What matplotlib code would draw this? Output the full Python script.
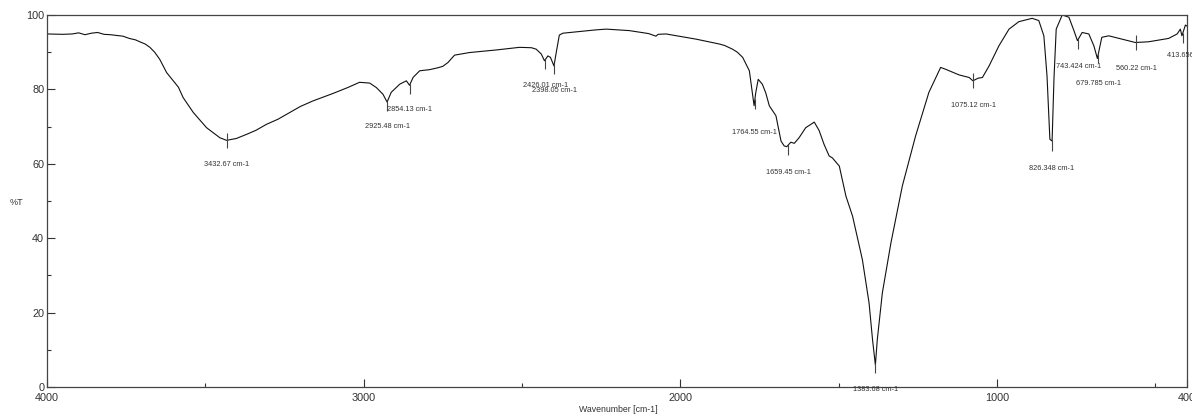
import numpy as np
import matplotlib
matplotlib.use("Agg")
from matplotlib import pyplot as plt
from matplotlib.ticker import MultipleLocator, FixedLocator

plt.rcParams['font.family'] = ['Liberation Sans', 'DejaVu Sans']

# FTIR spectrum, wavenumber (cm-1) against transmittance (%T)
wavenumber = [4000, 3950, 3920, 3900, 3880, 3860, 3840, 3820, 3800, 3780,
              3760, 3740, 3720, 3707, 3690, 3675, 3660, 3644, 3622, 3601,
              3585, 3570, 3538, 3496, 3454, 3433, 3402, 3370, 3340, 3307,
              3270, 3233, 3200, 3160, 3097, 3050, 3013, 2981, 2960, 2939,
              2926, 2913, 2886, 2865, 2855, 2844, 2823, 2792, 2766, 2750,
              2734, 2713, 2666, 2581, 2508, 2470, 2455, 2439, 2429, 2418,
              2410, 2399, 2390, 2382, 2371, 2266, 2234, 2161, 2100, 2077,
              2070, 2045, 1950, 1877, 1860, 1835, 1820, 1803, 1782, 1774,
              1767, 1762, 1754, 1741, 1730, 1719, 1698, 1682, 1672, 1664,
              1651, 1640, 1625, 1604, 1577, 1562, 1546, 1530, 1520, 1498,
              1477, 1456, 1425, 1404, 1393, 1384, 1378, 1362, 1335, 1299,
              1257, 1215, 1178, 1162, 1120, 1088, 1076, 1060, 1046, 1025,
              994, 962, 931, 889, 868, 852, 842, 833, 826, 820,
              813, 794, 773, 757, 746, 731, 710, 694, 683, 669,
              647, 600, 563, 521, 458, 431, 421, 416, 405, 400]
transmittance = [94.9, 94.8, 94.9, 95.2, 94.7, 95.1, 95.3, 94.8, 94.7, 94.5,
                 94.3, 93.7, 93.3, 92.8, 92.2, 91.3, 90.0, 88.1, 84.5, 82.3,
                 80.6, 77.8, 73.8, 69.7, 67.0, 66.3, 66.8, 67.9, 69.0, 70.6,
                 72.0, 73.8, 75.4, 76.9, 78.9, 80.5, 81.9, 81.7, 80.5, 78.7,
                 76.6, 79.2, 81.4, 82.3, 81.1, 83.2, 85.0, 85.3, 85.8, 86.2,
                 87.2, 89.2, 89.9, 90.6, 91.3, 91.2, 90.8, 89.5, 87.7, 89.0,
                 88.6, 86.3, 90.8, 94.6, 95.1, 96.0, 96.2, 95.8, 95.0, 94.3,
                 94.8, 94.9, 93.5, 92.2, 91.8, 90.8, 90.0, 88.6, 85.0, 80.0,
                 75.6, 79.0, 82.7, 81.4, 79.0, 75.6, 72.9, 66.1, 64.8, 64.6,
                 65.8, 65.5, 67.0, 69.7, 71.2, 69.0, 65.2, 62.1, 61.6, 59.4,
                 51.3, 45.9, 34.2, 22.6, 12.7, 5.9, 12.7, 25.3, 38.7, 54.0,
                 67.5, 79.2, 85.9, 85.4, 83.9, 83.2, 82.3, 83.0, 83.2, 86.3,
                 91.7, 96.2, 98.2, 99.1, 98.5, 94.4, 83.6, 66.6, 66.1, 83.0,
                 96.2, 100.0, 99.4, 95.8, 93.1, 95.3, 94.9, 91.7, 88.3, 94.0,
                 94.4, 93.4, 92.6, 92.8, 93.7, 94.9, 96.2, 94.4, 97.3, 97.0]

# picked peaks
peaks = [3432.67, 2925.48, 2854.13, 2426.01, 2398.05, 1764.55, 1659.45,
         1383.68, 1075.12, 826.348, 743.424, 679.785, 560.22, 413.656]
peak_labels = ["3432.67 cm-1", "2925.48 cm-1", "2854.13 cm-1", "2426.01 cm-1",
               "2398.05 cm-1", "1764.55 cm-1", "1659.45 cm-1", "1383.68 cm-1",
               "1075.12 cm-1", "826.348 cm-1", "743.424 cm-1", "679.785 cm-1",
               "560.22 cm-1", "413.656 cm-1"]

# where each label text sits (%T) and a small sideways nudge (cm-1)
label_y = [59.7, 70.0, 74.7, 81.0, 79.6, 68.4, 57.7,
           -0.8, 75.6, 58.7, 86.2, 81.7, 85.7, 89.0]
label_dx = [0, 0, 0, 0, 0, 0, 0, 0, 0, 0, 0, 0, 0, -20]
crossed = [3432.67, 1075.12, 560.22]

fig = plt.figure(figsize=(11.92, 4.15), dpi=100)
ax = fig.add_axes([0.0394, 0.0675, 0.9564, 0.8964])

ax.plot(wavenumber, transmittance, color='#111111', lw=0.8)

wn_sorted = np.array(wavenumber)[::-1]
t_sorted = np.array(transmittance)[::-1]
for p, lab, ly, dx in zip(peaks, peak_labels, label_y, label_dx):
    t = np.interp(p, wn_sorted, t_sorted)
    if p in crossed:
        ax.vlines(p, t - 2.0, t + 2.0, color='#444444', lw=0.8)
    else:
        ax.vlines(p, t - 2.6, t + 0.2, color='#444444', lw=0.8)
    ax.text(p + dx, ly, lab, ha='center', va='center', fontsize=5.3,
            color='#333333', clip_on=False)

ax.set_xlim(4000, 400)
ax.set_ylim(0, 100)
ax.xaxis.set_major_locator(FixedLocator([4000, 3000, 2000, 1000, 400]))
ax.xaxis.set_minor_locator(FixedLocator([3500, 2500, 1500, 500]))
ax.yaxis.set_major_locator(MultipleLocator(20))
ax.yaxis.set_minor_locator(MultipleLocator(10))

ax.tick_params(which='both', direction='in', width=0.8, colors='#333333',
               labelsize=7.8)
ax.tick_params(which='major', length=6)
ax.tick_params(which='minor', length=3)
ax.tick_params(axis='x', pad=4)
ax.tick_params(axis='y', pad=2)
for s in ax.spines.values():
    s.set_color('#444444')
    s.set_linewidth(0.9)

ax.set_xlabel("Wavenumber [cm-1]", fontsize=6.3, color='#333333', labelpad=0)
ax.xaxis.set_label_coords(0.501, -0.048)
ax.set_ylabel("%T", fontsize=6.5, color='#333333', rotation=0)
ax.yaxis.set_label_coords(-0.027, 0.485)

fig.savefig("out.png", dpi=100)
